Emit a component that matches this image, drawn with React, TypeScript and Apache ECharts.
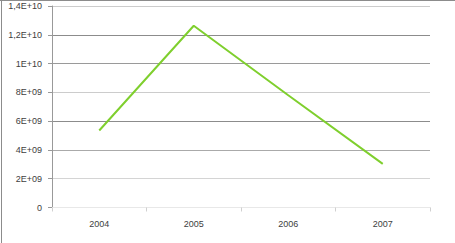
import React, { useEffect, useRef } from "react";
import * as echarts from "echarts";

const categories = ["2004", "2005", "2006", "2007"];
const values = [5.35e9, 1.263e10, 7.8e9, 3.03e9];
const yTickLabels = ["0", "2E+09", "4E+09", "6E+09", "8E+09", "1E+10", "1,2E+10", "1,4E+10"];

export default function App() {
  const ref = useRef<HTMLDivElement>(null);
  useEffect(() => {
    const chart = echarts.init(ref.current!, null, { renderer: "svg" });
    chart.setOption({
      animation: false,
      backgroundColor: "#ffffff",
      grid: { left: 52, right: 25, top: 6, bottom: 35.5 },
      xAxis: {
        type: "category",
        data: categories,
        boundaryGap: true,
        axisLine: { show: true, lineStyle: { color: "#e8e8e8", width: 1 } },
        axisTick: { show: true, interval: 0, length: 4, lineStyle: { color: "#d0d0d0" } },
        axisLabel: { color: "#404040", fontSize: 9, fontFamily: "Liberation Sans", margin: 12 },
      },
      yAxis: {
        type: "value",
        min: 0,
        max: 1.4e10,
        interval: 2e9,
        axisLine: { show: true, lineStyle: { color: "#999999", width: 1 } },
        axisTick: { show: true, length: 4, lineStyle: { color: "#999999" } },
        axisLabel: {
          color: "#404040",
          fontSize: 9,
          fontFamily: "Liberation Sans",
          margin: 10,
          formatter: (v: number) => yTickLabels[Math.round(v / 2e9)] ?? "",
        },
        splitLine: {
          show: true,
          lineStyle: {
            color: ["#f0f0f0", "#d4d4d4", "#aaaaaa", "#8c8c8c", "#cccccc", "#9a9a9a", "#8c8c8c", "#cccccc"],
            width: 1,
          },
        },
      },
      series: [
        {
          type: "line",
          data: values,
          symbol: "none",
          lineStyle: { color: "#7fcf2e", width: 2 },
        },
      ],
      graphic: [
        { type: "line", shape: { x1: 0, y1: 0.5, x2: 455, y2: 0.5 }, style: { stroke: "#8c8c8c", lineWidth: 1 } },
        { type: "line", shape: { x1: 1.5, y1: 0, x2: 1.5, y2: 243 }, style: { stroke: "#8c8c8c", lineWidth: 1 } },
      ],
    });
    return () => chart.dispose();
  }, []);
  return <div ref={ref} style={{ width: 455, height: 243, position: "absolute", left: 0, top: 0 }} />;
}
